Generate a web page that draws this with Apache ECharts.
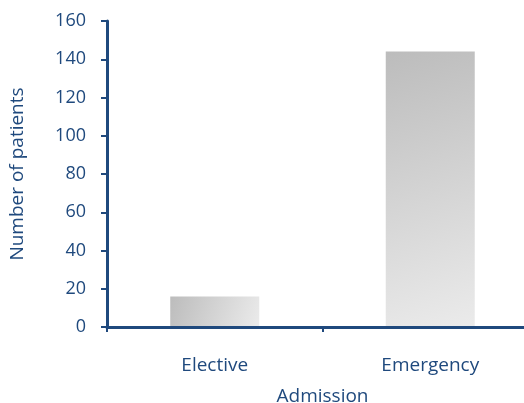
<!DOCTYPE html>
<html>
<head>
<meta charset="utf-8">
<style>
  html, body { margin: 0; padding: 0; background: #fff; }
  #chart { width: 524px; height: 403px; }
</style>
<script src="https://cdn.jsdelivr.net/npm/echarts@6/dist/echarts.min.js"></script>
</head>
<body>
<div id="chart"></div>
<script>
// Admission type and patient counts
const categories = ['Elective', 'Emergency'];
const patients = [16, 144];
const yTicks = [0, 20, 40, 60, 80, 100, 120, 140, 160];

const navy = '#1f497d';
const font = '"Open Sans", Lato, sans-serif';

const chart = echarts.init(document.getElementById('chart'), null, { renderer: 'canvas' });

chart.setOption({
  animation: false,
  backgroundColor: '#ffffff',
  grid: { left: 107, right: -14, top: 21, bottom: 76, outerBoundsMode: 'none', containLabel: false },
  xAxis: {
    type: 'category',
    data: categories,
    name: 'Admission',
    nameLocation: 'middle',
    nameGap: 60,
    nameTextStyle: { color: navy, fontFamily: font, fontSize: 19 },
    axisLine: { show: true, lineStyle: { color: navy, width: 3 } },
    axisTick: { show: true, alignWithLabel: false, length: 5, lineStyle: { color: navy, width: 2 } },
    axisLabel: { color: navy, fontFamily: font, fontSize: 19, margin: 29 },
    z: 10
  },
  yAxis: {
    type: 'value',
    min: yTicks[0],
    max: yTicks[yTicks.length - 1],
    interval: yTicks[1] - yTicks[0],
    name: 'Number of patients',
    nameLocation: 'middle',
    nameGap: 80,
    nameRotate: 90,
    nameTextStyle: { color: navy, fontFamily: font, fontSize: 19 },
    axisLine: { show: true, lineStyle: { color: navy, width: 3 } },
    axisTick: { show: true, inside: false, length: 6, lineStyle: { color: navy, width: 2 } },
    axisLabel: { color: navy, fontFamily: font, fontSize: 18, margin: 21 },
    splitLine: { show: false },
    z: 10
  },
  series: [{
    type: 'bar',
    data: patients,
    barWidth: 89,
    z: 1,
    itemStyle: {
      color: {
        type: 'linear', x: 0, y: 0, x2: 1, y2: 1,
        colorStops: [
          { offset: 0, color: '#bcbcbc' },
          { offset: 1, color: '#ebebeb' }
        ]
      }
    }
  }]
});
</script>
</body>
</html>
